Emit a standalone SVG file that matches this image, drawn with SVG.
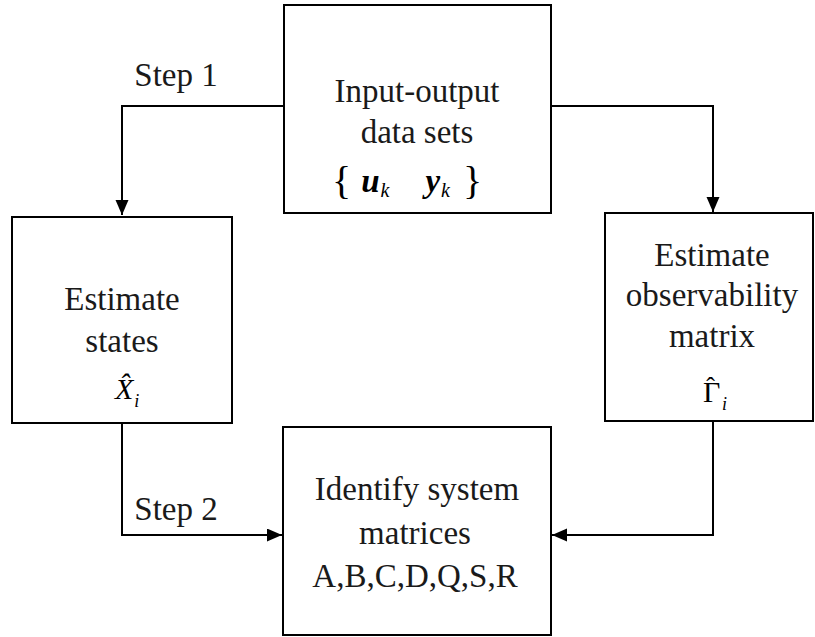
<svg xmlns="http://www.w3.org/2000/svg" width="815" height="637" viewBox="0 0 815 637">
<style>
.box{fill:#fff;stroke:#000;stroke-width:2}
.t{font-family:"Liberation Serif","Times New Roman",serif;font-size:33px;fill:#1a1a1a;text-anchor:middle}
.m{font-family:"Liberation Serif","Times New Roman",serif;fill:#000}
.c{fill:none;stroke:#000;stroke-width:2}
</style>
<defs>
<marker id="ah" markerUnits="userSpaceOnUse" markerWidth="16" markerHeight="14" refX="15" refY="6.5" orient="auto">
<path d="M0,0 L15,6.5 L0,13 z" fill="#000"/>
</marker>
</defs>
<rect width="815" height="637" fill="#fff"/>
<g id="connectors">
<path class="c" d="M284,106 H122 V215" marker-end="url(#ah)"/>
<path class="c" d="M551,106 H713 V212" marker-end="url(#ah)"/>
<path class="c" d="M122,423 V535 H282" marker-end="url(#ah)"/>
<path class="c" d="M713,421 V535 H552" marker-end="url(#ah)"/>
<text class="t" x="176" y="86">Step 1</text>
<text class="t" x="176" y="520">Step 2</text>
</g>
<g id="input-output">
<rect class="box" x="284" y="5" width="267" height="208"/>
<text class="t" x="417" y="102">Input-output</text>
<text class="t" x="417" y="143">data sets</text>
<text class="m" x="332" y="194" font-size="40">{<tspan dx="10" dy="-2" font-size="33" font-style="italic" font-weight="bold">u</tspan><tspan dx="1" dy="5" font-size="20" font-style="italic">k</tspan><tspan dx="36" dy="-5" font-size="33" font-style="italic" font-weight="bold">y</tspan><tspan dx="1" dy="5" font-size="20" font-style="italic">k</tspan><tspan dx="13" dy="-3" font-size="40">}</tspan></text>
</g>
<g id="estimate-states">
<rect class="box" x="12" y="217" width="220" height="206"/>
<text class="t" x="122" y="310">Estimate</text>
<text class="t" x="122" y="352">states</text>
<text class="m" x="115" y="399" font-size="30" font-style="italic">X&#x302;<tspan dx="1" dy="8" font-size="18">i</tspan></text>
</g>
<g id="estimate-observability">
<rect class="box" x="605" y="213" width="208" height="208"/>
<text class="t" x="712" y="266">Estimate</text>
<text class="t" x="712" y="306">observability</text>
<text class="t" x="712" y="347">matrix</text>
<text class="m" x="703" y="402" font-size="30">Γ<tspan dx="-14" dy="-7" font-size="26">ˆ</tspan><tspan dx="7" dy="15" font-size="18" font-style="italic">i</tspan></text>
</g>
<g id="identify">
<rect class="box" x="283" y="427" width="268" height="208"/>
<text class="t" x="417" y="500">Identify system</text>
<text class="t" x="415" y="544">matrices</text>
<text class="t" x="415" y="587">A,B,C,D,Q,S,R</text>
</g>
</svg>
